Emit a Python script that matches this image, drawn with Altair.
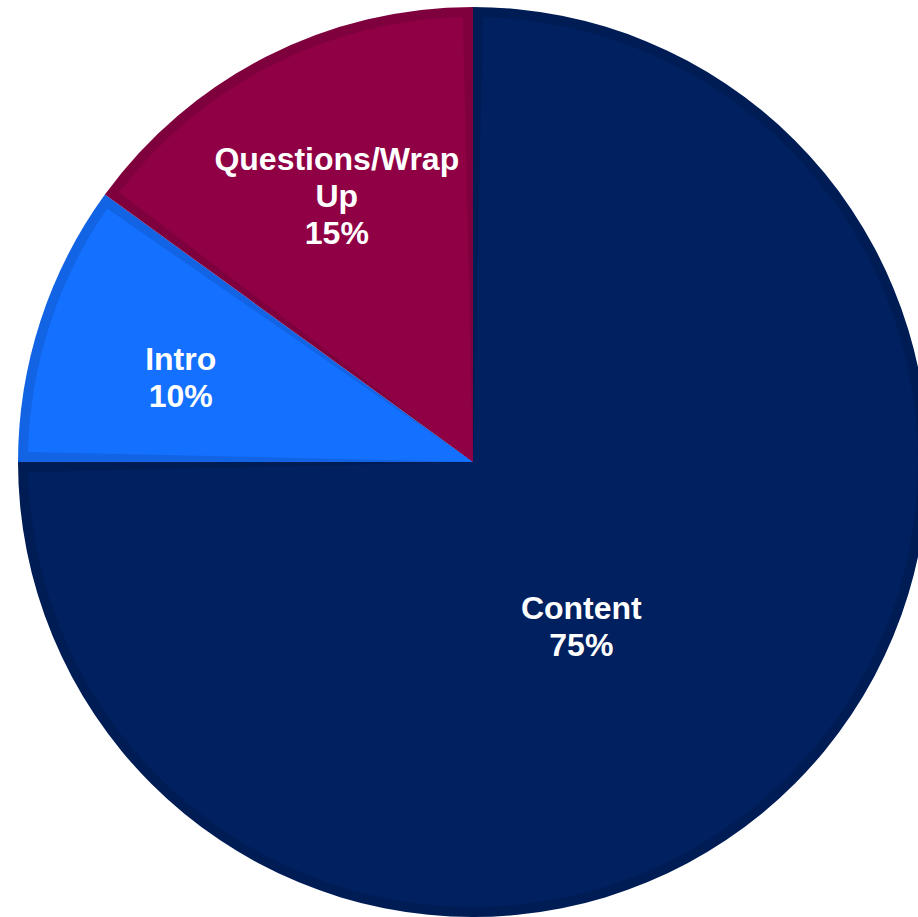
import altair as alt
import pandas as pd

categories = ["Content", "Intro", "Questions/Wrap\nUp"]
shares = [75, 10, 15]
order = [1, 2, 3]
fill_colors = ["#002060", "#1470FF", "#8F0045"]
edge_colors = ["#001C55", "#1264E4", "#7E003D"]

df = pd.DataFrame({"cat": categories, "pct": shares, "ord": order})

theta_scale = alt.Scale(domain=[0, 100], range=[0, 6.283185307])
cx, cy = 473, 462

base = alt.Chart(df).encode(
    x=alt.value(cx), y=alt.value(cy)
)

outer = base.mark_arc(radius=455).encode(
    theta=alt.Theta("pct:Q", stack=True, scale=theta_scale),
    order=alt.Order("ord:Q"),
    color=alt.Color("cat:N", scale=alt.Scale(domain=categories, range=edge_colors), legend=None),
)

inner = base.mark_arc(radius=445, padAngle=0.045).encode(
    theta=alt.Theta("pct:Q", stack=True, scale=theta_scale),
    order=alt.Order("ord:Q"),
    fill=alt.Fill("cat:N", scale=alt.Scale(domain=categories, range=fill_colors), legend=None),
)

def label_layer(name, r, dx, dy):
    return (
        base.transform_window(cum="sum(pct)", sort=[alt.SortField("ord")])
        .transform_calculate(mid="datum.cum - datum.pct / 2",
                             txt="datum.cat + '\\n' + datum.pct + '%'")
        .transform_filter(alt.datum.cat == name)
        .mark_text(radius=r, dx=dx, dy=dy, font="Liberation Sans", fontWeight="bold",
                   fontSize=32, color="white", lineBreak="\n", lineHeight=37,
                   align="center", baseline="middle")
        .encode(theta=alt.Theta("mid:Q", scale=theta_scale, stack=False), text="txt:N")
    )

chart = alt.layer(
    outer, inner,
    label_layer("Content", 197, -31, 8),
    label_layer("Intro", 300, -7, -9),
    label_layer("Questions/Wrap\nUp", 300, 0, -35),
).resolve_scale(color="independent", fill="independent").properties(
    width=918, height=917, padding=0, autosize=alt.AutoSizeParams(type="none")
).configure_view(stroke=None)

chart.save("out.html", embed_options={"renderer": "svg", "actions": False})
